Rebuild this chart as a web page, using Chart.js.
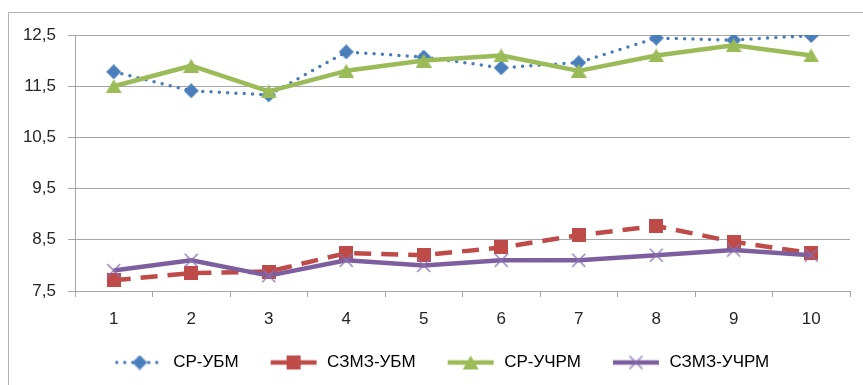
<!DOCTYPE html>
<html>
<head>
<meta charset="utf-8">
<script src="https://cdn.jsdelivr.net/npm/chart.js@4.4.1/dist/chart.umd.min.js"></script>
<style>
  html, body { margin: 0; padding: 0; background: #ffffff; }
  canvas { display: block; }
</style>
</head>
<body>
<canvas id="chart" width="863" height="385"></canvas>
<script>
// Categories along the x axis
const categories = ['1', '2', '3', '4', '5', '6', '7', '8', '9', '10'];
// Value-axis tick positions
const yTicks = [7.5, 8.5, 9.5, 10.5, 11.5, 12.5];

// Series values
const srUbm     = [11.78, 11.41, 11.33, 12.17, 12.07, 11.86, 11.96, 12.44, 12.40, 12.49];
const szmzUbm   = [7.71, 7.85, 7.88, 8.24, 8.20, 8.35, 8.59, 8.77, 8.46, 8.24];
const srUchrm   = [11.5, 11.9, 11.4, 11.8, 12.0, 12.1, 11.8, 12.1, 12.3, 12.1];
const szmzUchrm = [7.9, 8.1, 7.8, 8.1, 8.0, 8.1, 8.1, 8.2, 8.3, 8.2];

const seriesNames = ['СР-УБМ', 'СЗМЗ-УБМ', 'СР-УЧРМ', 'СЗМЗ-УЧРМ'];

const FONT = "'Liberation Sans', Arial, sans-serif";
const TEXT = '#262626';
const GRID = '#a6a6a6';

const BLUE = '#4a7ebb';
const RED = '#be4b48';
const GREEN = '#9bbb59';
const PURPLE = '#7d5fa0';

// Marker glyphs as small canvases (centred on their bounding box)
function marker(kind, color) {
  const c = document.createElement('canvas');
  const ctx = c.getContext('2d');
  if (kind === 'diamond') {
    c.width = 15; c.height = 15;
    ctx.fillStyle = color;
    ctx.beginPath();
    ctx.moveTo(7.5, 0); ctx.lineTo(15, 7.5); ctx.lineTo(7.5, 15); ctx.lineTo(0, 7.5);
    ctx.closePath(); ctx.fill();
  } else if (kind === 'square') {
    c.width = 14; c.height = 14;
    ctx.fillStyle = color;
    ctx.fillRect(0, 0, 14, 14);
  } else if (kind === 'triangle') {
    c.width = 16; c.height = 14;
    ctx.fillStyle = color;
    ctx.beginPath();
    ctx.moveTo(8, 0); ctx.lineTo(16, 14); ctx.lineTo(0, 14);
    ctx.closePath(); ctx.fill();
  } else if (kind === 'cross') {
    c.width = 15; c.height = 15;
    ctx.strokeStyle = color;
    ctx.lineWidth = 1.3;
    ctx.beginPath();
    ctx.moveTo(1, 1); ctx.lineTo(14, 14);
    ctx.moveTo(14, 1); ctx.lineTo(1, 14);
    ctx.stroke();
  }
  return c;
}

const markers = [
  marker('diamond', BLUE),
  marker('square', RED),
  marker('triangle', GREEN),
  marker('cross', '#8a6fb0')
];

// Legend swatch: a short stretch of line with the marker in the middle
function legendIcon(color, width, dash, cap, mk) {
  const c = document.createElement('canvas');
  c.width = 50; c.height = 20;
  const ctx = c.getContext('2d');
  ctx.strokeStyle = color;
  ctx.lineWidth = width;
  ctx.lineCap = cap;
  ctx.setLineDash(dash);
  ctx.beginPath();
  ctx.moveTo(2, 10); ctx.lineTo(48, 10);
  ctx.stroke();
  ctx.drawImage(mk, 25 - mk.width / 2, 10 - mk.height / 2);
  return c;
}

const icons = [
  legendIcon(BLUE, 3.5, [0, 8], 'round', markers[0]),
  legendIcon(RED, 4.5, [], 'butt', markers[1]),
  legendIcon(GREEN, 4.5, [], 'butt', markers[2]),
  legendIcon(PURPLE, 4.5, [], 'butt', markers[3])
];

// Thin grey frame around the chart
const framePlugin = {
  id: 'frame',
  beforeDraw(chart) {
    const ctx = chart.ctx;
    ctx.save();
    ctx.strokeStyle = '#b3b3b3';
    ctx.lineWidth = 1;
    ctx.beginPath();
    ctx.moveTo(8.5, chart.height);
    ctx.lineTo(8.5, 12.5);
    ctx.lineTo(chart.width, 12.5);
    ctx.stroke();
    ctx.restore();
  }
};

// Nudge the legend row a little to the right so it sits under the plot
const legendShift = {
  id: 'legendShift',
  afterLayout(chart) {
    if (chart.legend) chart.legend.left += 12;
  }
};

function lineSeries(label, data, color, width, dash, cap, mk, order) {
  return {
    label,
    data,
    borderColor: color,
    backgroundColor: color,
    borderWidth: width,
    borderDash: dash,
    borderCapStyle: cap,
    borderJoinStyle: 'round',
    tension: 0,
    fill: false,
    pointStyle: mk,
    pointRadius: 7,
    pointHoverRadius: 7,
    order
  };
}

new Chart(document.getElementById('chart'), {
  type: 'line',
  data: {
    labels: categories,
    datasets: [
      lineSeries(seriesNames[0], srUbm, BLUE, 3.5, [0, 8.3], 'round', markers[0], 4),
      lineSeries(seriesNames[1], szmzUbm, RED, 4.5, [17, 10], 'butt', markers[1], 3),
      lineSeries(seriesNames[2], srUchrm, GREEN, 4.5, [], 'butt', markers[2], 2),
      lineSeries(seriesNames[3], szmzUchrm, PURPLE, 4.5, [], 'butt', markers[3], 1)
    ]
  },
  options: {
    responsive: false,
    animation: false,
    devicePixelRatio: 1,
    layout: { padding: { top: 35, right: 13, bottom: 4, left: 22 } },
    scales: {
      x: {
        type: 'category',
        offset: true,
        afterFit(axis) { axis.height = 33; },
        border: { display: true, color: GRID, width: 1 },
        grid: { offset: true, drawOnChartArea: false, tickLength: 6, color: GRID, lineWidth: 1 },
        ticks: { padding: 12, color: TEXT, font: { family: FONT, size: 17 }, maxRotation: 0 }
      },
      y: {
        min: yTicks[0],
        max: yTicks[yTicks.length - 1],
        afterBuildTicks(axis) { axis.ticks = yTicks.map(v => ({ value: v })); },
        afterFit(axis) { axis.width = 53; },
        border: { display: true, color: GRID, width: 1 },
        grid: { color: GRID, lineWidth: 1, tickLength: 7 },
        ticks: {
          padding: 12,
          color: TEXT,
          font: { family: FONT, size: 17 },
          callback: v => String(v).replace('.', ',')
        }
      }
    },
    plugins: {
      tooltip: { enabled: false },
      legend: {
        position: 'bottom',
        align: 'center',
        labels: {
          usePointStyle: true,
          pointStyleWidth: 50,
          padding: 30,
          color: TEXT,
          font: { family: FONT, size: 17 },
          generateLabels: chart => chart.data.datasets.map((ds, i) => ({
            text: ds.label,
            pointStyle: icons[i],
            fillStyle: ds.borderColor,
            strokeStyle: ds.borderColor,
            lineWidth: 0,
            hidden: false,
            datasetIndex: i
          }))
        }
      }
    }
  },
  plugins: [framePlugin, legendShift]
});
</script>
</body>
</html>
